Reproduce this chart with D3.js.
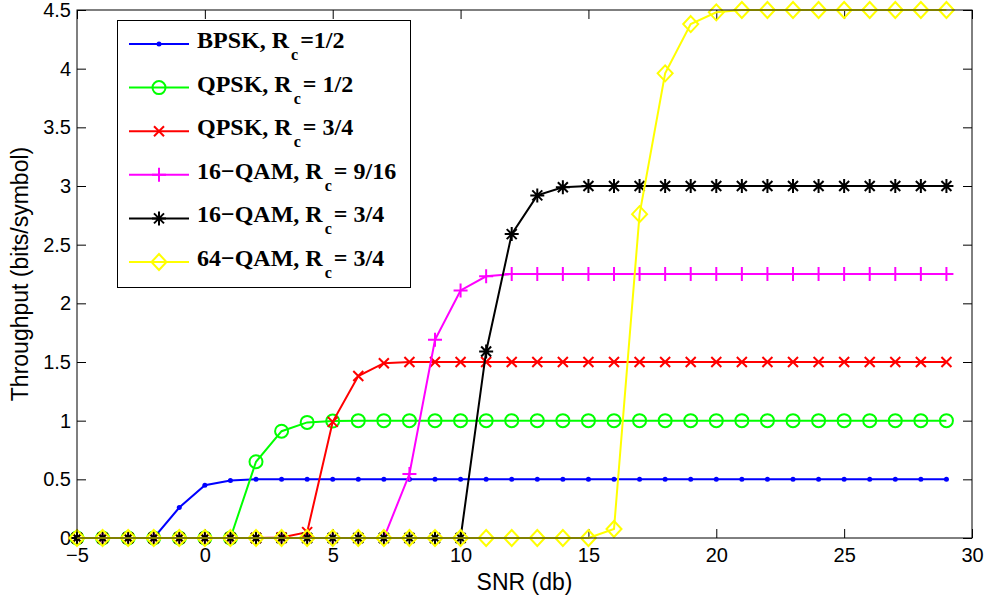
<!DOCTYPE html>
<html>
<head>
<meta charset="utf-8">
<script src="https://cdn.jsdelivr.net/npm/d3@7"></script>
<style>
  body { margin: 0; background: #fff; }
</style>
</head>
<body>
<div id="chart"></div>
<script>
// SNR values (db), one point per integer
const snr = [-5, -4, -3, -2, -1, 0, 1, 2, 3, 4, 5, 6, 7, 8, 9, 10, 11, 12, 13, 14,
             15, 16, 17, 18, 19, 20, 21, 22, 23, 24, 25, 26, 27, 28, 29];

// throughput (bits/symbol)
const bpsk = [0, 0, 0, 0, 0.26, 0.45, 0.49, 0.5, 0.5, 0.5, 0.5, 0.5, 0.5, 0.5, 0.5, 0.5, 0.5, 0.5,
              0.5, 0.5, 0.5, 0.5, 0.5, 0.5, 0.5, 0.5, 0.5, 0.5, 0.5, 0.5, 0.5, 0.5, 0.5, 0.5, 0.5];
const qpsk12 = [0, 0, 0, 0, 0, 0, 0, 0.65, 0.91, 0.985, 0.997, 1, 1, 1, 1, 1, 1, 1,
                1, 1, 1, 1, 1, 1, 1, 1, 1, 1, 1, 1, 1, 1, 1, 1, 1];
const qpsk34 = [0, 0, 0, 0, 0, 0, 0, 0, 0.005, 0.05, 0.99, 1.38, 1.49, 1.5, 1.5, 1.5, 1.5, 1.5,
                1.5, 1.5, 1.5, 1.5, 1.5, 1.5, 1.5, 1.5, 1.5, 1.5, 1.5, 1.5, 1.5, 1.5, 1.5, 1.5, 1.5];
const qam16a = [0, 0, 0, 0, 0, 0, 0, 0, 0, 0, 0, 0, 0, 0.545, 1.69, 2.11, 2.23, 2.25,
                2.25, 2.25, 2.25, 2.25, 2.25, 2.25, 2.25, 2.25, 2.25, 2.25, 2.25, 2.25, 2.25, 2.25, 2.25, 2.25, 2.25];
const qam16b = [0, 0, 0, 0, 0, 0, 0, 0, 0, 0, 0, 0, 0, 0, 0, 0, 1.59, 2.59,
                2.92, 2.99, 3, 3, 3, 3, 3, 3, 3, 3, 3, 3, 3, 3, 3, 3, 3];
const qam64 = [0, 0, 0, 0, 0, 0, 0, 0, 0, 0, 0, 0, 0, 0, 0, 0, 0, 0,
               0, 0, 0, 0.077, 2.76, 3.96, 4.38, 4.48, 4.5, 4.5, 4.5, 4.5, 4.5, 4.5, 4.5, 4.5, 4.5];

const xTicks = [-5, 0, 5, 10, 15, 20, 25, 30];
const yTicks = [0, 0.5, 1, 1.5, 2, 2.5, 3, 3.5, 4, 4.5];

// legend labels: [before subscript, subscript, after subscript]
const series = [
    { name: ["BPSK, R", "c", "=1/2"], values: bpsk, color: "#0000ff", marker: "dot" },
    { name: ["QPSK, R", "c", "= 1/2"], values: qpsk12, color: "#00ff00", marker: "circle" },
    { name: ["QPSK, R", "c", "= 3/4"], values: qpsk34, color: "#ff0000", marker: "x" },
    { name: ["16\u2212QAM, R", "c", "= 9/16"], values: qam16a, color: "#ff00ff", marker: "plus" },
    { name: ["16\u2212QAM, R", "c", "= 3/4"], values: qam16b, color: "#000000", marker: "star" },
    { name: ["64\u2212QAM, R", "c", "= 3/4"], values: qam64, color: "#ffff00", marker: "diamond" }
];

let width = 989, height = 598;
let plot = { left: 77, right: 972, top: 10, bottom: 538 }; //px
let sans = "'Liberation Sans', Arial, sans-serif";
let serif = "'Liberation Serif', 'Times New Roman', serif";

let svg = d3.select("#chart")
    .append("svg")
    .attr("width", width)
    .attr("height", height);

svg.append("rect")
    .attr("width", "100%")
    .attr("height", "100%")
    .attr("fill", "#fff");

let x = d3.scaleLinear().domain([-5, 30]).range([plot.left, plot.right]);
let y = d3.scaleLinear().domain([0, 4.5]).range([plot.bottom, plot.top]);

/*---------------
 // axes (box with inward ticks, matlab style)
 ----------------*/
let tickLen = 9;

svg.append("g")
    .attr("transform", "translate(0," + plot.bottom + ")")
    .call(d3.axisBottom(x).tickValues(xTicks).tickSizeInner(-tickLen).tickSizeOuter(0).tickPadding(10))
    .call(g => g.selectAll("text").attr("font-size", "20px").attr("fill", "#000").attr("font-family", sans));

svg.append("g")
    .attr("transform", "translate(" + plot.left + ",0)")
    .call(d3.axisLeft(y).tickValues(yTicks).tickFormat(d3.format("")).tickSizeInner(-tickLen).tickSizeOuter(0).tickPadding(6))
    .call(g => g.selectAll("text").attr("font-size", "20px").attr("fill", "#000").attr("font-family", sans));

svg.append("g")
    .attr("transform", "translate(0," + plot.top + ")")
    .call(d3.axisTop(x).tickValues(xTicks).tickFormat("").tickSizeInner(-tickLen).tickSizeOuter(0));

svg.append("g")
    .attr("transform", "translate(" + plot.right + ",0)")
    .call(d3.axisRight(y).tickValues(yTicks).tickFormat("").tickSizeInner(-tickLen).tickSizeOuter(0));

svg.selectAll(".domain").remove();
svg.selectAll(".tick line").attr("stroke", "#000");

svg.append("text")
    .attr("x", (plot.left + plot.right) / 2)
    .attr("y", 590)
    .attr("text-anchor", "middle")
    .attr("font-family", sans)
    .attr("font-size", "23px")
    .text("SNR (db)");

svg.append("text")
    .attr("transform", "translate(28," + (plot.top + plot.bottom) / 2 + ") rotate(-90)")
    .attr("text-anchor", "middle")
    .attr("font-family", sans)
    .attr("font-size", "23px")
    .text("Throughput (bits/symbol)");

/*---------------
 // markers
 ----------------*/
function drawMarker(g, type, color) {
    if (type == "dot") {
        g.append("circle").attr("r", 2.5).attr("fill", color);
    } else if (type == "circle") {
        g.append("circle").attr("r", 6.5).attr("fill", "none").attr("stroke", color).attr("stroke-width", 2);
    } else {
        let paths = {
            x: "M-5,-5L5,5M-5,5L5,-5",
            plus: "M-7,0H7M0,-7V7",
            star: "M-7,0H7M0,-7V7M-5,-5L5,5M-5,5L5,-5",
            diamond: "M0,-8L7.5,0L0,8L-7.5,0Z"
        };
        g.append("path").attr("d", paths[type]).attr("fill", "none")
            .attr("stroke", color).attr("stroke-width", 2);
    }
}

let line = d3.line()
    .x((d, i) => x(snr[i]))
    .y(d => y(d));

series.forEach(s => {
    let g = svg.append("g");
    g.append("path")
        .attr("d", line(s.values))
        .attr("fill", "none")
        .attr("stroke", s.color)
        .attr("stroke-width", 2);
    s.values.forEach((v, i) => {
        let m = g.append("g").attr("transform", "translate(" + x(snr[i]) + "," + y(v) + ")");
        drawMarker(m, s.marker, s.color);
    });
});

// box border on top of the lines
svg.append("rect")
    .attr("x", plot.left)
    .attr("y", plot.top)
    .attr("width", plot.right - plot.left)
    .attr("height", plot.bottom - plot.top)
    .attr("fill", "none")
    .attr("stroke", "#000")
    .attr("stroke-width", 1);

/*---------------
 // legend
 ----------------*/
let legend = svg.append("g");
legend.append("rect")
    .attr("x", 117.5).attr("y", 20.5)
    .attr("width", 293).attr("height", 267)
    .attr("fill", "#fff")
    .attr("stroke", "#000");

series.forEach((s, i) => {
    let ly = 44 + i * 43.6;
    legend.append("line")
        .attr("x1", 129).attr("x2", 189)
        .attr("y1", ly).attr("y2", ly)
        .attr("stroke", s.color).attr("stroke-width", 2);
    let m = legend.append("g").attr("transform", "translate(159," + ly + ")");
    drawMarker(m, s.marker, s.color);
    let t = legend.append("text")
        .attr("x", 197).attr("y", ly + 4)
        .attr("font-family", serif)
        .attr("font-weight", "bold")
        .attr("font-size", "24px");
    t.append("tspan").text(s.name[0]);
    t.append("tspan").attr("dx", 2).attr("dy", 12).attr("font-size", "16px").text(s.name[1]);
    t.append("tspan").attr("dx", 2).attr("dy", -12).text(s.name[2]);
});
</script>
</body>
</html>
